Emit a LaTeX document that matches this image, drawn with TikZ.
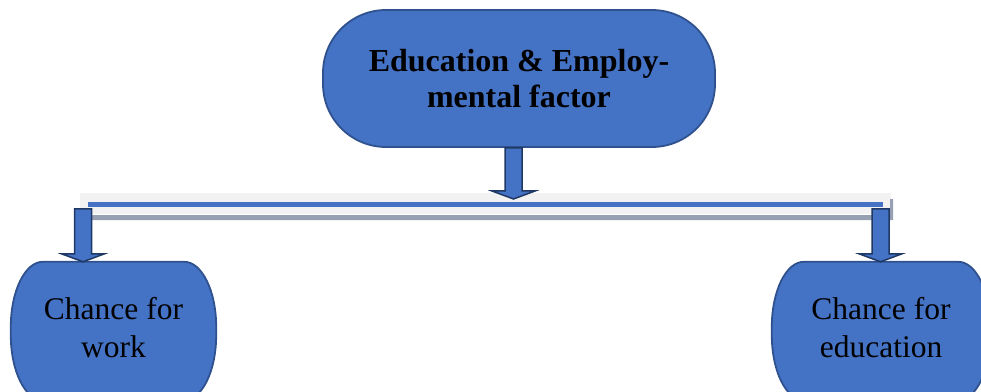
\documentclass[tikz,border=0pt]{standalone}
\usepackage{fontspec}
\setmainfont{Liberation Serif}
\usetikzlibrary{calc,backgrounds}

\definecolor{boxblue}{HTML}{4472C4}
\definecolor{boxedge}{HTML}{2F528F}
\definecolor{arrowedge}{HTML}{203864}
\definecolor{barfill}{HTML}{F2F2F2}
\definecolor{barshade}{HTML}{97A0B2}

\tikzset{
  factor/.style={draw=boxedge, line width=1.8pt, fill=boxblue, rounded corners=63pt,
    minimum width=392pt, minimum height=137pt, align=center,
    font=\fontsize{32}{36.5}\selectfont\bfseries},
  chance/.style={minimum width=#1, minimum height=132pt, align=center,
    font=\fontsize{31.5}{38}\selectfont},
  boxline/.style={draw=boxedge, line width=1.8pt, fill=boxblue},
  barbox/.style={fill=barfill, minimum width=811pt, minimum height=21pt, inner sep=0pt},
  blockarrow/.style={draw=arrowedge, line width=1.5pt, fill=boxblue},
}

% shaft from #1 straight down to the tip at #2
\newcommand\blockarrow[2]{%
  \draw[blockarrow] ($(#1)+(-8.5,0)$) -- ($(#2)+(-8.5,8)$) -- ($(#2)+(-21.5,8)$) -- (#2)
    -- ($(#2)+(21.5,8)$) -- ($(#2)+(8.5,8)$) -- ($(#1)+(8.5,0)$) -- cycle;}

% oval-cornered outline behind a chance node (runs a little below it)
\newcommand\softbox[1]{%
  \begin{scope}[on background layer]
  \draw[boxline] ([xshift=32pt]#1.north west) -- ([xshift=-32pt]#1.north east)
    arc[start angle=90, end angle=0, x radius=32pt, y radius=65pt]
    -- ([yshift=59pt]#1.south east)
    arc[start angle=0, end angle=-90, x radius=32pt, y radius=65pt]
    -- ([xshift=32pt,yshift=-6pt]#1.south west)
    arc[start angle=270, end angle=180, x radius=32pt, y radius=65pt]
    -- ([yshift=-65pt]#1.north west)
    arc[start angle=180, end angle=90, x radius=32pt, y radius=65pt] -- cycle;
  \end{scope}}

\begin{document}
\begin{tikzpicture}[x=1pt,y=1pt]
  \useasboundingbox (0,0) rectangle (981,391);

  \node[factor] (edu) at (519,312.5) {Education \& Employ-\\mental factor};
  \node[barbox] (bar) at (485.5,187.5) {};
  \node[chance=205pt] (work) at (113.5,63) {Chance for\\work};
  \node[chance=218pt] (educ) at (881,63) {Chance for\\education};
  \softbox{work}
  \softbox{educ}

  % lines across the bar
  \fill[barshade] ([xshift=8pt,yshift=-1pt]bar.south west) -- ([xshift=-1pt,yshift=-1pt]bar.south east)
    -- ([xshift=-1pt,yshift=15pt]bar.south east) -- ([xshift=2pt,yshift=15pt]bar.south east)
    -- ([xshift=2pt,yshift=-6pt]bar.south east) -- ([xshift=8pt,yshift=-6pt]bar.south west) -- cycle;
  \fill[boxblue] ([xshift=8pt,yshift=-9pt]bar.north west) rectangle ([xshift=-8pt,yshift=-14pt]bar.north east);

  \coordinate (eduout) at ($(edu.south)+(-5.5,0)$);
  \coordinate (barin) at (513.5,192);
  \coordinate (leftout) at (83,182);
  \coordinate (rightout) at (880.5,182);
  \coordinate (workin) at (leftout |- work.north);
  \coordinate (educin) at (rightout |- educ.north);

  \blockarrow{eduout}{barin}
  \blockarrow{leftout}{workin}
  \blockarrow{rightout}{educin}
\end{tikzpicture}
\end{document}
